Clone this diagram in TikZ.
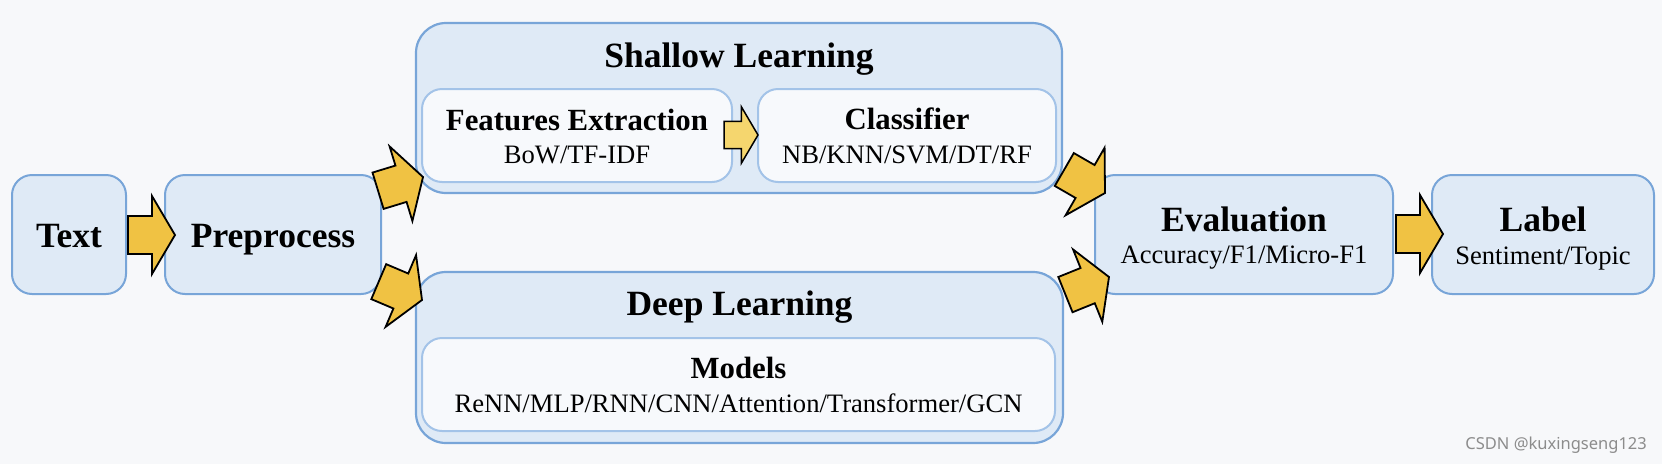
\documentclass[tikz,border=0pt]{standalone}
\usepackage{fontspec}
\setmainfont{Liberation Serif}
\newfontfamily\wmfont{Noto Sans}
\definecolor{bgc}{HTML}{F7F8FA}
\definecolor{boxfill}{HTML}{DFEAF6}
\definecolor{boxline}{HTML}{78A5D8}
\definecolor{innerfill}{HTML}{F7F9FC}
\definecolor{innerline}{HTML}{A3C3E8}
\definecolor{arrfill}{HTML}{F0C243}
\definecolor{arrfillsmall}{HTML}{F5D66E}
\definecolor{wmgray}{HTML}{8C8C8C}
\newcommand\barrow[3]{%
  \draw[#1, shift={(#2)}, rotate=#3] (0,0) -- (-23,-39) -- (-23,-19) -- (-47,-19) -- (-47,19) -- (-23,19) -- (-23,39) -- cycle;}
\begin{document}
\begin{tikzpicture}[x=1pt,y=-1pt,
  box/.style={draw=boxline, line width=2pt, fill=boxfill, rounded corners=20pt, inner sep=0pt},
  outerbox/.style={draw=boxline, line width=2.2pt, fill=boxfill, rounded corners=30pt, inner sep=0pt},
  innerbox/.style={draw=innerline, line width=2pt, fill=innerfill, rounded corners=20pt, inner sep=0pt},
  ttl/.style={font=\fontsize{35.5}{42}\selectfont\bfseries, anchor=base, inner sep=0pt},
  sttl/.style={font=\fontsize{30.8}{36}\selectfont\bfseries, anchor=base, inner sep=0pt},
  sub/.style={font=\fontsize{26.6}{31}\selectfont, anchor=base, inner sep=0pt},
  bigarrow/.style={draw=black, line width=1.8pt, line join=miter, fill=arrfill},
  smallarrow/.style={draw=black, line width=1.5pt, line join=miter, fill=arrfillsmall, scale=0.72},
]
\fill[bgc] (0,0) rectangle (1662,464);
\useasboundingbox (0,0) rectangle (1662,464);

% main boxes
\node[box, minimum width=114pt, minimum height=119pt] (txt) at (69,234.5) {};
\node[box, minimum width=216pt, minimum height=119pt] (pre) at (273,234.5) {};
\node[outerbox, minimum width=646pt, minimum height=170pt] (shallow) at (739,108) {};
\node[innerbox, minimum width=310pt, minimum height=93pt] (fe) at (577,135.5) {};
\node[innerbox, minimum width=298pt, minimum height=93pt] (cls) at (907,135.5) {};
\node[outerbox, minimum width=647pt, minimum height=171pt] (deep) at (739.5,357.5) {};
\node[innerbox, minimum width=633pt, minimum height=93pt] (models) at (738.5,384.5) {};
\node[box, minimum width=298pt, minimum height=119pt] (eval) at (1244,234.5) {};
\node[box, minimum width=222pt, minimum height=119pt] (label) at (1543,234.5) {};

% texts
\node[ttl] (txtT) at (69,247) {Text};
\node[ttl] (preT) at (273,247) {Preprocess};
\node[ttl] (shT) at (739,67) {Shallow Learning};
\node[sttl] (feT) at (577,130) {Features Extraction};
\node[sub] (feS) at (577,163) {BoW/TF-IDF};
\node[sttl] (clsT) at (907,129) {Classifier};
\node[sub] (clsS) at (907,163) {NB/KNN/SVM/DT/RF};
\node[ttl] (deepT) at (739.5,315) {Deep Learning};
\node[sttl] (modT) at (738.5,378) {Models};
\node[sub] (modS) at (738.5,412) {ReNN/MLP/RNN/CNN/Attention/Transformer/GCN};
\node[ttl] (evalT) at (1244,231) {Evaluation};
\node[sub] (evalS) at (1244,263) {Accuracy/F1/Micro-F1};
\node[ttl] (labT) at (1543,231) {Label};
\node[sub] (labS) at (1543,264) {Sentiment/Topic};

% arrow tips
\coordinate (tA) at (175,235);
\coordinate (tB) at (423,177);
\coordinate (tC) at (422,300);
\coordinate (tD) at (1105,193);
\coordinate (tE) at (1109,277);
\coordinate (tF) at (1443,234);
\coordinate (tG) at (758,135);

\barrow{bigarrow}{tA}{0}
\barrow{bigarrow}{tB}{17}
\barrow{bigarrow}{tC}{-23}
\barrow{bigarrow}{tD}{-30}
\barrow{bigarrow}{tE}{22}
\barrow{bigarrow}{tF}{0}
\barrow{smallarrow}{tG}{0}

\node[anchor=base east, font=\wmfont\fontsize{16.5}{20}\selectfont, text=wmgray, inner sep=0pt] (wm) at (1647,449) {CSDN @kuxingseng123};
\end{tikzpicture}
\end{document}
